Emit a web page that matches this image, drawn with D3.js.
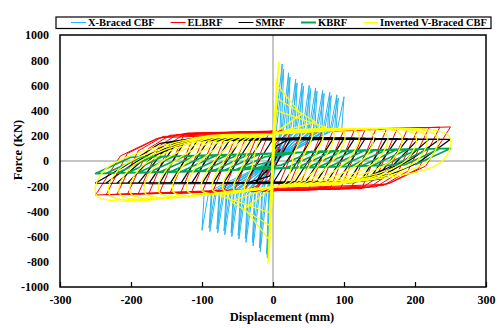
<!DOCTYPE html>
<html>
<head>
<meta charset="utf-8">
<script src="https://cdn.jsdelivr.net/npm/d3@7"></script>
<style>
  body { margin: 0; background: #fff; }
  text { font-family: "Liberation Serif", "Times New Roman", serif; font-weight: bold; }
</style>
</head>
<body>
<svg id="chart" width="500" height="328"></svg>
<script>
// axis ticks
var xTicks = [-300, -200, -100, 0, 100, 200, 300];
var yTicks = [-1000, -800, -600, -400, -200, 0, 200, 400, 600, 800, 1000];

var seriesNames = ["X-Braced CBF", "ELBRF", "SMRF", "KBRF", "Inverted V-Braced CBF"];

// hysteresis turning points, [displacement mm, force kN]
// two cycles per amplitude for the X-braced frame
var xbraced = [
  [0,0],[-8,-770],[-5,-260],[3,260],[13,770],[10,260],
  [-2,-260],[-9,-740],[-6,-260],[5,260],[15,730],[12,260],
  [-9,-260],[-18,-720],[-15,-260],[13,260],[22,700],[19,260],
  [-11,-260],[-19,-690],[-16,-260],[15,260],[24,665],[21,260],
  [-19,-260],[-28,-675],[-25,-260],[23,260],[32,650],[29,260],
  [-21,-260],[-29,-645],[-26,-260],[25,260],[34,620],[31,260],
  [-29,-260],[-38,-645],[-35,-260],[32,260],[41,620],[38,260],
  [-31,-260],[-39,-615],[-36,-260],[34,260],[43,595],[40,260],
  [-39,-260],[-48,-620],[-45,-260],[42,260],[51,600],[48,260],
  [-41,-260],[-49,-590],[-46,-260],[44,260],[53,575],[50,260],
  [-49,-260],[-58,-600],[-55,-260],[51,260],[60,580],[57,260],
  [-51,-260],[-59,-570],[-56,-260],[53,260],[62,555],[59,260],
  [-59,-260],[-68,-585],[-65,-260],[61,260],[70,560],[67,260],
  [-61,-260],[-69,-555],[-66,-260],[63,260],[72,535],[69,260],
  [-69,-260],[-78,-570],[-75,-260],[71,260],[80,545],[77,260],
  [-71,-260],[-79,-540],[-76,-260],[73,260],[82,520],[79,260],
  [-80,-260],[-89,-560],[-86,-260],[81,260],[90,525],[87,260],
  [-82,-260],[-90,-530],[-87,-260],[83,260],[92,500],[89,260],
  [-91,-260],[-100,-550],[-97,-260],[91,260],[100,510],[97,260]
];

var elbrf = [
  [0,0],[-10,-125],[0,40],[10,125],[0,-40],
  [-25,-238],[5,150],[25,238],[-5,-150],
  [-40,-241],[-5,234],[40,241],[5,-234],
  [-55,-243],[-20,232],[55,243],[20,-232],
  [-70,-245],[-35,230],[70,245],[35,-230],
  [-85,-247],[-50,228],[85,247],[50,-228],
  [-100,-249],[-65,226],[100,249],[65,-226],
  [-115,-251],[-80,224],[115,251],[80,-224],
  [-130,-253],[-95,222],[130,253],[95,-222],
  [-145,-255],[-110,220],[145,255],[110,-220],
  [-160,-257],[-125,218],[160,257],[125,-218],
  [-175,-260],[-145,140],[-125,212],[175,260],[145,-140],[125,-212],
  [-190,-262],[-160,120],[-135,210],[190,262],[160,-120],[135,-210],
  [-205,-264],[-175,100],[-145,205],[205,264],[175,-100],[145,-205],
  [-220,-266],[-190,80],[-155,195],[220,266],[190,-80],[155,-195],
  [-235,-268],[-205,60],[-160,185],[235,268],[205,-60],[160,-185],
  [-250,-270],[-215,40],[-165,175],[-120,222],[250,270],[215,-40],[165,-175],[120,-222]
];

var smrf = [
  [0,0],[-10,-90],[0,20],[10,90],[0,-20],
  [-25,-178],[5,120],[25,178],[-5,-120],
  [-40,-180],[0,175],[40,180],[0,-175],
  [-55,-180],[-15,175],[55,180],[15,-175],
  [-70,-180],[-30,175],[70,180],[30,-175],
  [-85,-180],[-45,176],[85,180],[45,-176],
  [-100,-180],[-60,176],[100,180],[60,-176],
  [-115,-180],[-75,177],[115,180],[75,-177],
  [-130,-180],[-90,177],[130,179],[90,-177],
  [-145,-180],[-105,178],[145,179],[105,-178],
  [-160,-180],[-125,150],[-100,178],[160,178],[125,-150],[100,-178],
  [-175,-179],[-140,110],[-105,176],[175,177],[140,-110],[105,-176],
  [-190,-178],[-155,70],[-115,172],[190,176],[155,-70],[115,-172],
  [-205,-177],[-170,30],[-125,162],[205,175],[170,-30],[125,-162],
  [-220,-176],[-185,0],[-135,150],[-95,178],[220,174],[185,0],[135,-150],[95,-178],
  [-235,-175],[-198,-25],[-148,140],[-105,178],[235,173],[198,25],[148,-140],[105,-178],
  [-250,-175],[-211,-48],[-159,140],[-115,178],[250,172],[204,-16],[150,-145],[100,-178]
];

var kbrf = [
  [0,0],[-55,-75],[-10,35],[55,75],[10,-35],
  [-70,-78],[-20,52],[70,78],[20,-52],
  [-85,-80],[-35,50],[85,80],[35,-50],
  [-100,-82],[-50,48],[100,82],[50,-48],
  [-115,-84],[-65,46],[115,84],[65,-46],
  [-130,-86],[-80,44],[130,86],[80,-44],
  [-145,-88],[-95,42],[145,88],[95,-42],
  [-160,-90],[-110,40],[160,90],[110,-40],
  [-175,-92],[-125,38],[175,92],[125,-38],
  [-190,-94],[-140,36],[190,94],[140,-36],
  [-205,-95],[-155,35],[205,95],[155,-35],
  [-220,-97],[-170,33],[220,97],[170,-33],
  [-235,-98],[-185,32],[235,98],[185,-32],
  [-250,-100],[-200,30],[250,100],[200,-30]
];

// inverted V: early buckling spikes (straight segments) and the later cycles (smooth)
var invertedVSpikes = [
  [0,0],[3,420],[-3,-440],[5,650],[-5,-690],[8,785],[0,215],
  [6,600],[40,370],[0,215],[5,500],[60,310],[0,215],[5,400],[75,265],[0,215],
  [-7,-810],[0,-205],
  [-6,-620],[-40,-380],[0,-205],[-5,-510],[-60,-320],[0,-205],[-5,-410],[-75,-275],[0,-205]
];

var invertedV = [
  [0,-205],
  [-40,-225],[-30,-60],[-18,180],[0,215],[40,240],[30,60],[18,-170],[0,-205],
  [-55,-228],[-43,-40],[-25,180],[0,215],[55,236],[43,40],[25,-170],[0,-205],
  [-70,-230],[-58,-30],[-32,180],[0,215],[70,233],[58,30],[32,-170],[0,-205],
  [-85,-232],[-73,-32],[-38,180],[0,215],[85,230],[73,30],[38,-170],[0,-205],
  [-100,-236],[-88,-36],[-45,180],[0,215],[100,228],[88,28],[45,-170],[0,-205],
  [-120,-242],[-108,-42],[-54,180],[0,215],[120,225],[108,25],[54,-170],[0,-205],
  [-140,-248],[-128,-48],[-63,180],[0,215],[140,218],[128,18],[63,-170],[0,-205],
  [-160,-252],[-148,-52],[-72,180],[0,215],[160,213],[148,13],[72,-170],[0,-205],
  [-180,-257],[-168,-57],[-81,180],[0,215],[180,210],[168,10],[81,-170],[0,-205],
  [-200,-262],[-188,-62],[-90,180],[0,215],[200,207],[188,7],[90,-170],[0,-205],
  [-215,-267],[-203,-67],[-97,180],[0,215],[215,204],[203,4],[97,-170],[0,-205],
  [-230,-271],[-218,-71],[-104,180],[0,215],[230,201],[218,1],[104,-170],[0,-205],
  [-248,-277],[-238,-77],[-112,180],[0,215],[248,198],[238,-2],[112,-170],[0,-205]
];

var seriesData = [xbraced, elbrf, smrf, kbrf, invertedV];
var colors = ["#29b6f2", "#ff0000", "#000000", "#00a651", "#ffff00"];
var widths = [1, 1, 1.2, 1.6, 1.3];
var legendWidths = [1, 1, 1, 2, 1];

var svg = d3.select("#chart");
var plotL = 60, plotR = 486, plotT = 35, plotB = 287;

var x = d3.scaleLinear().domain([-300, 300]).range([plotL, plotR]);
var y = d3.scaleLinear().domain([-1000, 1000]).range([plotB, plotT]);

// zero lines
svg.append("line")
  .attr("x1", plotL).attr("x2", plotR)
  .attr("y1", y(0)).attr("y2", y(0))
  .attr("stroke", "#8c8c8c").attr("stroke-width", 1);
svg.append("line")
  .attr("x1", x(0)).attr("x2", x(0))
  .attr("y1", plotT).attr("y2", plotB)
  .attr("stroke", "#8c8c8c").attr("stroke-width", 1);

var plot = svg.append("g");
plot.append("clipPath").attr("id", "clip")
  .append("rect").attr("x", plotL).attr("y", plotT)
  .attr("width", plotR - plotL).attr("height", plotB - plotT);

var straight = d3.line()
  .x(function(d) { return x(d[0]); })
  .y(function(d) { return y(d[1]); });
var smooth = d3.line()
  .x(function(d) { return x(d[0]); })
  .y(function(d) { return y(d[1]); })
  .curve(d3.curveCatmullRom.alpha(0.5));

function drawLoop(pts, i, lineGen) {
  plot.append("path")
    .datum(pts)
    .attr("clip-path", "url(#clip)")
    .attr("fill", "none")
    .attr("stroke", colors[i])
    .attr("stroke-width", widths[i])
    .attr("stroke-linejoin", "round")
    .attr("d", lineGen);
}

seriesData.forEach(function(pts, i) {
  if (i == 4) {
    drawLoop(invertedVSpikes, i, straight);
    drawLoop(pts, i, smooth);
  } else {
    drawLoop(pts, i, straight);
  }
});

// frame
svg.append("rect")
  .attr("x", plotL).attr("y", plotT)
  .attr("width", plotR - plotL).attr("height", plotB - plotT)
  .attr("fill", "none").attr("stroke", "#000").attr("stroke-width", 1.5);

// axes
var fmt = function(d) { return String(d); };
var xAxis = svg.append("g")
  .attr("transform", "translate(0," + plotB + ")")
  .call(d3.axisBottom(x).tickValues(xTicks).tickSize(-5).tickPadding(8).tickFormat(fmt));
xAxis.select(".domain").remove();
xAxis.selectAll("line").attr("stroke", "#000").attr("stroke-width", 1.2);
xAxis.selectAll("text").attr("font-size", 12).attr("fill", "#000")
  .style("font-family", "'Liberation Serif', serif").style("font-weight", "bold");

var yAxis = svg.append("g")
  .attr("transform", "translate(" + plotL + ",0)")
  .call(d3.axisLeft(y).tickValues(yTicks).tickSize(0).tickPadding(11).tickFormat(fmt));
yAxis.select(".domain").remove();
yAxis.selectAll("text").attr("font-size", 12).attr("fill", "#000")
  .style("font-family", "'Liberation Serif', serif").style("font-weight", "bold");

// axis titles
svg.append("text")
  .attr("x", 282).attr("y", 321)
  .attr("text-anchor", "middle").attr("font-size", 12.5)
  .text("Displacement (mm)");
svg.append("text")
  .attr("transform", "translate(22,150) rotate(-90)")
  .attr("text-anchor", "middle").attr("font-size", 12.5)
  .text("Force (KN)");

// legend
var legend = svg.append("g");
legend.append("rect")
  .attr("x", 56).attr("y", 17).attr("width", 435).attr("height", 11.5)
  .attr("fill", "#fff").attr("stroke", "#000").attr("stroke-width", 1.2);

var sample = 15, gapText = 2;
var items = legend.selectAll("g.item").data(seriesNames).enter().append("g").attr("class", "item");
items.append("text")
  .attr("font-size", 10.5)
  .attr("y", 26.2)
  .text(function(d) { return d; });
var textW = [];
items.selectAll("text").each(function() { textW.push(this.getComputedTextLength()); });
var startX = 71, endX = 487;
var used = d3.sum(textW) + seriesNames.length * (sample + gapText);
var gapItem = (endX - startX - used) / (seriesNames.length - 1);
var cx = startX;
items.each(function(d, i) {
  var g = d3.select(this);
  g.append("line")
    .attr("x1", cx).attr("x2", cx + sample)
    .attr("y1", 22.5).attr("y2", 22.5)
    .attr("stroke", colors[i]).attr("stroke-width", legendWidths[i]);
  g.select("text").attr("x", cx + sample + gapText);
  cx += sample + gapText + textW[i] + gapItem;
});
</script>
</body>
</html>
